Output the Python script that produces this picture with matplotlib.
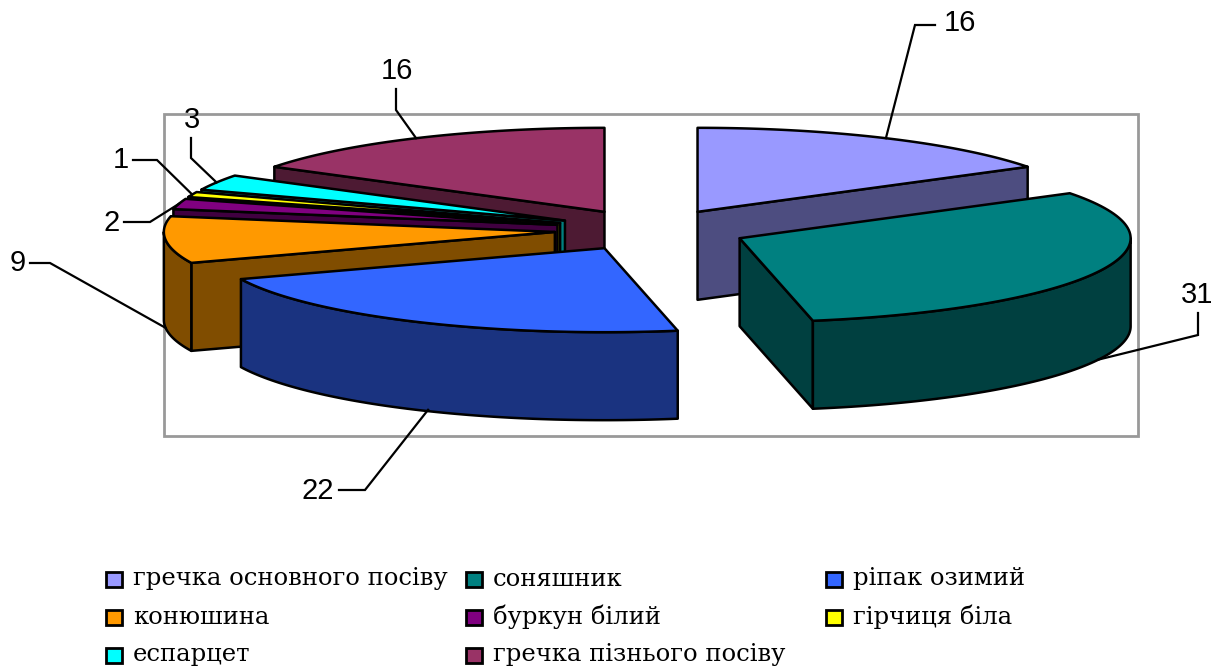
import numpy as np
import matplotlib
matplotlib.use('Agg')
import matplotlib.pyplot as plt
from matplotlib.patches import Polygon, Rectangle

categories = ['гречка основного посіву', 'соняшник', 'ріпак озимий', 'конюшина',
              'буркун білий', 'гірчиця біла', 'еспарцет', 'гречка пізнього посіву']
values = [16, 31, 22, 9, 2, 1, 3, 16]
top_colors = ['#9999FF', '#008080', '#3366FF', '#FF9900', '#800080', '#FFFF00', '#00FFFF', '#993366']
side_colors = ['#4D4D80', '#004040', '#1A3380', '#804D00', '#400040', '#808000', '#008080', '#4D1A33']

# pie geometry, in pixels of the picture
cx, cy = 651, 230
rx, ry = 391, 84
depth = 88
explode = 0.247
line = 1.8

# label position and elbow of each leader, depth share of where it leaves the rim
label_xy = [(960, 23), (1197, 295), (318, 491), (18, 263), (112, 223), (121, 160), (192, 120), (397, 71)]
elbow_a = [(915, 25), (1198, 335), (365, 490), (50, 263), (150, 222), (157, 160), (191, 158), (396, 110)]
elbow_b = [(935, 25), (1198, 313), (339, 490), (30, 263), (124, 222), (133, 160), (191, 138), (396, 89)]
leader_depth = [0, 1, 1, 1, 0, 0, 0, 0]
leader_dx = [0, 0, 12, 0, 0, 0, 0, 0]

fig = plt.figure(figsize=(12.13, 6.68), dpi=100)
ax = fig.add_axes([0, 0, 1, 1])
ax.set_xlim(0, 1213)
ax.set_ylim(668, 0)
ax.axis('off')

ax.add_patch(Rectangle((164, 114), 974, 322, fill=False, ec='#999999', lw=2, zorder=0))


def rim(x0, y0, t):
    return np.column_stack([x0 + rx * np.sin(t), y0 - ry * np.cos(t)])


bounds = np.radians(np.cumsum([0] + values) * 3.6)
mids = (bounds[:-1] + bounds[1:]) / 2
apex_x = cx + explode * rx * np.sin(mids)
apex_y = cy - explode * ry * np.cos(mids)

# back slices first
order = sorted(range(len(values)), key=lambda i: -np.cos(mids[i]))
z = 1
for i in order:
    a, b = bounds[i], bounds[i + 1]
    x0, y0 = apex_x[i], apex_y[i]
    ts = np.linspace(a, b, 80)
    edge = rim(x0, y0, ts)
    down = np.array([0, depth])
    style = dict(ec='black', lw=line, joinstyle='round')

    # flat walls, only the ones turned to the viewer
    for t, visible in ((a, np.sin(a) < -1e-6), (b, np.sin(b) > 1e-6)):
        if visible:
            p = rim(x0, y0, np.array([t]))[0]
            c = np.array([x0, y0])
            ax.add_patch(Polygon([c, p, p + down, c + down], fc=side_colors[i], zorder=z, **style))
            z += 1

    # outer wall, front half of the rim
    lo, hi = max(a, np.pi / 2), min(b, 3 * np.pi / 2)
    if lo < hi:
        arc = rim(x0, y0, np.linspace(lo, hi, 80))
        ax.add_patch(Polygon(np.vstack([arc, arc[::-1] + down]), fc=side_colors[i], zorder=z, **style))
        z += 1

    ax.add_patch(Polygon(np.vstack([[x0, y0], edge]), fc=top_colors[i], zorder=z, **style))
    z += 1

# value labels and their leaders
for i, v in enumerate(values):
    start = rim(apex_x[i], apex_y[i], np.array([mids[i]]))[0] + [leader_dx[i], depth * leader_depth[i]]
    xs = [start[0], elbow_a[i][0], elbow_b[i][0]]
    ys = [start[1], elbow_a[i][1], elbow_b[i][1]]
    ax.plot(xs, ys, color='black', lw=1.6, zorder=z, solid_joinstyle='miter')
    ax.text(label_xy[i][0], label_xy[i][1], str(v), fontsize=21, family='Liberation Sans',
            ha='center', va='center', color='black', zorder=z)

# legend
legend_x = [105, 465, 825]
legend_y = [580, 618, 656]
for i, name in enumerate(categories):
    col, row = i % 3, i // 3
    x, y = legend_x[col], legend_y[row]
    ax.add_patch(Rectangle((x + 1, y - 8), 16, 15, fc=top_colors[i], ec='black', lw=2))
    ax.text(x + 28, y - 1, name, fontsize=17.5, family='DejaVu Serif', ha='left', va='center', color='black')

fig.savefig('out.png', dpi=100)
